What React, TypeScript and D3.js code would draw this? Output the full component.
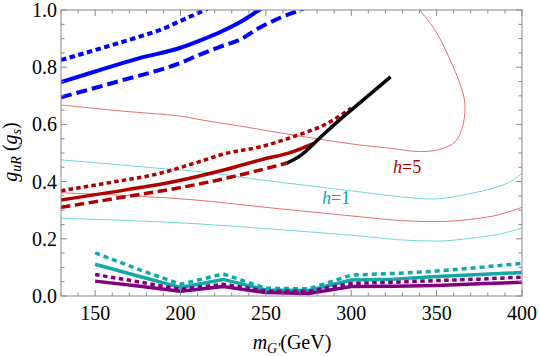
import React from "react";
import * as d3 from "d3";

type Pt = [number, number];

// thick blue bands
const blueDotted: Pt[] = [[130, 0.825], [150, 0.86], [175, 0.905], [190, 0.935], [200, 0.962], [214, 1.0], [218, 1.012]];
const blueSolid: Pt[] = [[130, 0.748], [150, 0.785], [175, 0.83], [200, 0.868], [212, 0.895], [224, 0.925], [235, 0.958], [246, 1.0], [249, 1.012]];
const blueDashed: Pt[] = [[130, 0.695], [165, 0.753], [200, 0.815], [211, 0.843], [223, 0.871], [235, 0.897], [246, 0.937], [258, 0.972], [270, 1.0], [274, 1.01]];

// thick dark red bands + black segment
const redDotted: Pt[] = [[130, 0.368], [159, 0.397], [188, 0.429], [208, 0.464], [227, 0.499], [247, 0.522], [266, 0.557], [286, 0.604], [300, 0.657]];
const redSolid: Pt[] = [[130, 0.336], [168, 0.371], [198, 0.402], [227, 0.443], [247, 0.476], [266, 0.505], [278, 0.534]];
const redDashed: Pt[] = [[130, 0.31], [168, 0.347], [198, 0.377], [227, 0.412], [247, 0.441], [262, 0.464]];
const blackLine: Pt[] = [[262, 0.464], [270, 0.49], [282, 0.555], [293, 0.615], [305, 0.675], [323, 0.766]];

// thin contours h=5 (red) and h=1 (cyan)
const h5Upper: Pt[] = [[130, 0.668], [165, 0.647], [200, 0.629], [213, 0.615], [235, 0.594], [270, 0.559], [305, 0.528], [324, 0.516], [340, 0.505], [352, 0.513], [361, 0.54], [365.5, 0.6], [366.5, 0.675], [363.5, 0.745], [356, 0.85], [349, 0.93], [340, 1.0], [337, 1.02]];
const h5Lower: Pt[] = [[130, 0.361], [208, 0.336], [258, 0.305], [305, 0.277], [324, 0.266], [348, 0.26], [370, 0.268], [387, 0.285], [400, 0.31]];
const h1Upper: Pt[] = [[130, 0.476], [160, 0.461], [188, 0.446], [211, 0.435], [247, 0.406], [280, 0.382], [305, 0.364], [329, 0.347], [348, 0.339], [370, 0.359], [383, 0.377], [395, 0.406], [400, 0.429]];
const h1Lower: Pt[] = [[130, 0.272], [211, 0.252], [260, 0.231], [305, 0.21], [329, 0.196], [350, 0.192], [370, 0.202], [388, 0.218], [400, 0.237]];

// bottom bands, sampled every 25 GeV
const massGrid = [150, 175, 200, 225, 250, 275, 300, 325, 350, 375, 400];
const cyanDottedVals = [0.151, 0.094, 0.041, 0.077, 0.027, 0.025, 0.073, 0.079, 0.087, 0.1, 0.114];
const cyanSolidVals = [0.111, 0.07, 0.03, 0.058, 0.021, 0.019, 0.056, 0.059, 0.068, 0.075, 0.082];
const purpleDottedVals = [0.075, 0.05, 0.023, 0.041, 0.017, 0.016, 0.044, 0.048, 0.054, 0.059, 0.066];
const purpleSolidVals = [0.052, 0.035, 0.017, 0.033, 0.012, 0.009, 0.033, 0.034, 0.037, 0.043, 0.048];

const xMajor = [150, 200, 250, 300, 350, 400];
const yMajor = [0, 0.2, 0.4, 0.6, 0.8, 1.0];

const W = 540, H = 356;
const left = 61, right = 522, top = 10, bottom = 296;
const serif = { fontFamily: "'Liberation Serif'" };

export default function App() {
  const x = d3.scaleLinear().domain([130, 400]).range([left, right]);
  const y = d3.scaleLinear().domain([0, 1]).range([bottom, top]);

  const smooth = d3.line<Pt>().x(d => x(d[0])).y(d => y(d[1])).curve(d3.curveMonotoneX);
  const loop = d3.line<Pt>().x(d => x(d[0])).y(d => y(d[1])).curve(d3.curveCatmullRom.alpha(0.5));
  const lin = d3.line<Pt>().x(d => x(d[0])).y(d => y(d[1]));
  const grid = (vals: number[]): Pt[] => massGrid.map((m, i) => [m, vals[i]]);

  const xMinor = d3.range(130, 401, 10).filter(v => !xMajor.includes(v));
  const yMinor = d3.range(0, 1.001, 0.05).map(v => +v.toFixed(2)).filter(v => !yMajor.some(m => Math.abs(m - v) < 1e-6));

  const axisColor = "#8a8a8a";
  const thinRed = "#e07272";
  const thinCyan = "#74d8d8";
  const darkRed = "#b00000";
  const cyan = "#12a8a8";
  const purple = "#800080";

  const curves = [
    { d: loop(h5Upper), stroke: thinRed, w: 1, dash: "" },
    { d: smooth(h5Lower), stroke: thinRed, w: 1, dash: "" },
    { d: smooth(h1Upper), stroke: thinCyan, w: 1, dash: "" },
    { d: smooth(h1Lower), stroke: thinCyan, w: 1, dash: "" },
    { d: smooth(blueDotted), stroke: "#0000ff", w: 4, dash: "5.5 3.5" },
    { d: smooth(blueSolid), stroke: "#0000ff", w: 4, dash: "" },
    { d: smooth(blueDashed), stroke: "#0000ff", w: 4, dash: "11 5" },
    { d: smooth(redDotted), stroke: darkRed, w: 3.5, dash: "4.5 3.2" },
    { d: smooth(redSolid), stroke: darkRed, w: 3.5, dash: "" },
    { d: smooth(redDashed), stroke: darkRed, w: 3.5, dash: "9.5 4.5" },
    { d: smooth(blackLine), stroke: "#000", w: 3.5, dash: "" },
    { d: lin(grid(cyanDottedVals)), stroke: cyan, w: 3.5, dash: "5 4" },
    { d: lin(grid(cyanSolidVals)), stroke: cyan, w: 3.5, dash: "" },
    { d: lin(grid(purpleDottedVals)), stroke: purple, w: 3.5, dash: "4.5 3.5" },
    { d: lin(grid(purpleSolidVals)), stroke: purple, w: 3.5, dash: "" },
  ];

  return (
    <svg width={W} height={H} style={{ position: "absolute", left: 0, top: 0, background: "#fff" }}>
      <defs>
        <clipPath id="plot">
          <rect x={left} y={top} width={right - left} height={bottom - top} />
        </clipPath>
      </defs>

      <g clipPath="url(#plot)" fill="none" strokeLinejoin="round">
        {curves.map((c, i) => (
          <path key={i} d={c.d || ""} stroke={c.stroke} strokeWidth={c.w} strokeDasharray={c.dash || undefined} />
        ))}
      </g>

      {/* frame and ticks */}
      <rect x={left} y={top} width={right - left} height={bottom - top} fill="none" stroke={axisColor} strokeWidth={1} />
      <g stroke={axisColor} strokeWidth={1}>
        {xMajor.map(v => (
          <g key={"xM" + v}>
            <line x1={x(v)} x2={x(v)} y1={bottom} y2={bottom - 6} />
            <line x1={x(v)} x2={x(v)} y1={top} y2={top + 6} />
          </g>
        ))}
        {xMinor.map(v => (
          <g key={"xm" + v}>
            <line x1={x(v)} x2={x(v)} y1={bottom} y2={bottom - 3.5} />
            <line x1={x(v)} x2={x(v)} y1={top} y2={top + 3.5} />
          </g>
        ))}
        {yMajor.map(v => (
          <g key={"yM" + v}>
            <line x1={left} x2={left + 6} y1={y(v)} y2={y(v)} />
            <line x1={right} x2={right - 6} y1={y(v)} y2={y(v)} />
          </g>
        ))}
        {yMinor.map(v => (
          <g key={"ym" + v}>
            <line x1={left} x2={left + 3.5} y1={y(v)} y2={y(v)} />
            <line x1={right} x2={right - 3.5} y1={y(v)} y2={y(v)} />
          </g>
        ))}
      </g>

      <g fontSize={20} fill="#000">
        {xMajor.map(v => (
          <text key={"xl" + v} x={x(v)} y={319.5} textAnchor="middle" style={serif}>{v}</text>
        ))}
        {yMajor.map(v => (
          <text key={"yl" + v} x={left - 4} y={y(v) + 7} textAnchor="end" style={serif}>{v.toFixed(1)}</text>
        ))}
      </g>

      {/* axis titles */}
      <text x={292} y={349} textAnchor="middle" fontSize={20} style={serif}>
        <tspan fontStyle="italic">m</tspan>
        <tspan fontStyle="italic" fontSize={14} dy={4}>G′</tspan>
        <tspan dy={-4}>(GeV)</tspan>
      </text>
      <text transform="translate(17,152) rotate(-90)" textAnchor="middle" fontSize={20} style={serif}>
        <tspan fontStyle="italic">g</tspan>
        <tspan fontStyle="italic" fontSize={14} dy={4}>uR</tspan>
        <tspan dy={-4}> (</tspan>
        <tspan fontStyle="italic">g</tspan>
        <tspan fontStyle="italic" fontSize={14} dy={4}>s</tspan>
        <tspan dy={-4}>)</tspan>
      </text>

      {/* contour labels */}
      <text x={393} y={173} fontSize={18} fill={darkRed} style={serif}>
        <tspan fontStyle="italic">h</tspan>=5
      </text>
      <text x={322} y={204} fontSize={18} fill={cyan} style={serif}>
        <tspan fontStyle="italic">h</tspan>=1
      </text>
    </svg>
  );
}
